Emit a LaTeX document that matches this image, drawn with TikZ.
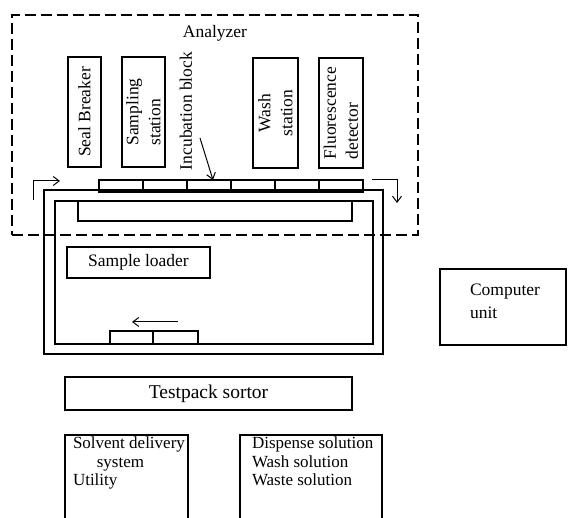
\documentclass[tikz,border=0pt]{standalone}
\usepackage{fontspec}
\setmainfont{Liberation Serif}
\usetikzlibrary{arrows.meta,calc}
\begin{document}
\begin{tikzpicture}[x=1pt,y=-1pt,line width=1.1pt,
  every node/.style={font=\fontsize{17.5}{22}\selectfont},
  box/.style={draw,inner sep=0pt,outer sep=0pt},
  txt/.style={inner sep=0pt,outer sep=0pt},
  slot/.style={draw,inner sep=0pt,outer sep=0pt,minimum width=44pt,minimum height=12pt},
  dashbox/.style={draw,dash pattern=on 11pt off 5pt,inner sep=0pt,outer sep=0pt},
  arr/.style={-{Straight Barb[length=6pt,width=9pt]},line width=1pt}]
\useasboundingbox (0,0) rectangle (568,518);
% Analyzer dashed box
\node[dashbox,minimum width=406pt,minimum height=220pt] (analyzer) at (215,125) {};
\node[txt] (analyzerlbl) at (215,33) {Analyzer};
% stations
\node[box,rotate=90,minimum width=110pt,minimum height=33pt] (seal) at (84.5,112) {Seal Breaker};
\node[box,rotate=90,minimum width=110pt,minimum height=43pt,align=left] (sampling) at (143.5,112) {Sampling\\station};
\node[txt,rotate=90] (incub) at (186,111) {Incubation block};
\node[box,rotate=90,minimum width=110pt,minimum height=45pt,align=center] (wash) at (275.5,113) {Wash\\station};
\node[box,rotate=90,minimum width=110pt,minimum height=44pt,align=left] (fluor) at (341,113) {Fluorescence\\detector};
% slots on top
\node[slot] (s1) at (121,186) {};
\node[slot] (s2) at (165,186) {};
\node[slot] (s3) at (209,186) {};
\node[slot] (s4) at (253,186) {};
\node[slot] (s5) at (297,186) {};
\node[slot] (s6) at (341,186) {};
\coordinate (incubtail) at (200,138);
\draw[arr] (incubtail) -- ($(s3.north)+(4,0)$);
% loader frames
\node[box,minimum width=339pt,minimum height=164pt] (outer) at (213.5,272) {};
\node[box,minimum width=318pt,minimum height=143pt] (inner) at (214,272.5) {};
\node[box,minimum width=274pt,minimum height=20pt] (track) at (215,211) {};
\node[box,minimum width=143pt,minimum height=31pt] (loader) at (138.5,262.5) {Sample loader};
% bottom slots
\node[slot,minimum width=43pt,minimum height=13pt] (b1) at (131.5,337.5) {};
\node[slot,minimum width=45pt,minimum height=13pt] (b2) at (175.5,337.5) {};
\coordinate (la) at (178,322);
\coordinate (lb) at (132,322);
\draw[arr] (la) -- (lb);
% circulation arrows
\coordinate (ua) at (33,200);
\coordinate (ub) at (33,181);
\coordinate (uc) at (60,181);
\draw[arr] (ua) -- (ub) -- (uc);
\coordinate (ra) at (372,180);
\coordinate (rb) at (397,180);
\coordinate (rc) at (397,203);
\draw[arr] (ra) -- (rb) -- (rc);
% computer unit
\node[box,minimum width=126pt,minimum height=76pt] (computer) at (503,307) {};
\node[txt,align=left,anchor=north west,font=\fontsize{17.5}{23}\selectfont] (complbl) at (470,284) {Computer\\unit};
% testpack sortor
\node[box,minimum width=287pt,minimum height=33pt,font=\fontsize{19.5}{22}\selectfont] (sortor) at (208.5,393.5) {Testpack sortor};
% bottom boxes
\node[box,minimum width=123pt,minimum height=95pt] (solvent) at (126.5,482.5) {};
\node[txt,align=left,anchor=north west,font=\fontsize{17}{18.5}\selectfont] (solventlbl) at (73,437) {Solvent delivery\\\hspace*{1.4em}system\\Utility};
\node[box,minimum width=142pt,minimum height=95pt] (dispense) at (311,482.5) {};
\node[txt,align=left,anchor=north west,font=\fontsize{17}{18.5}\selectfont] (dispenselbl) at (252,437) {Dispense solution\\Wash solution\\Waste solution};
\end{tikzpicture}
\end{document}
